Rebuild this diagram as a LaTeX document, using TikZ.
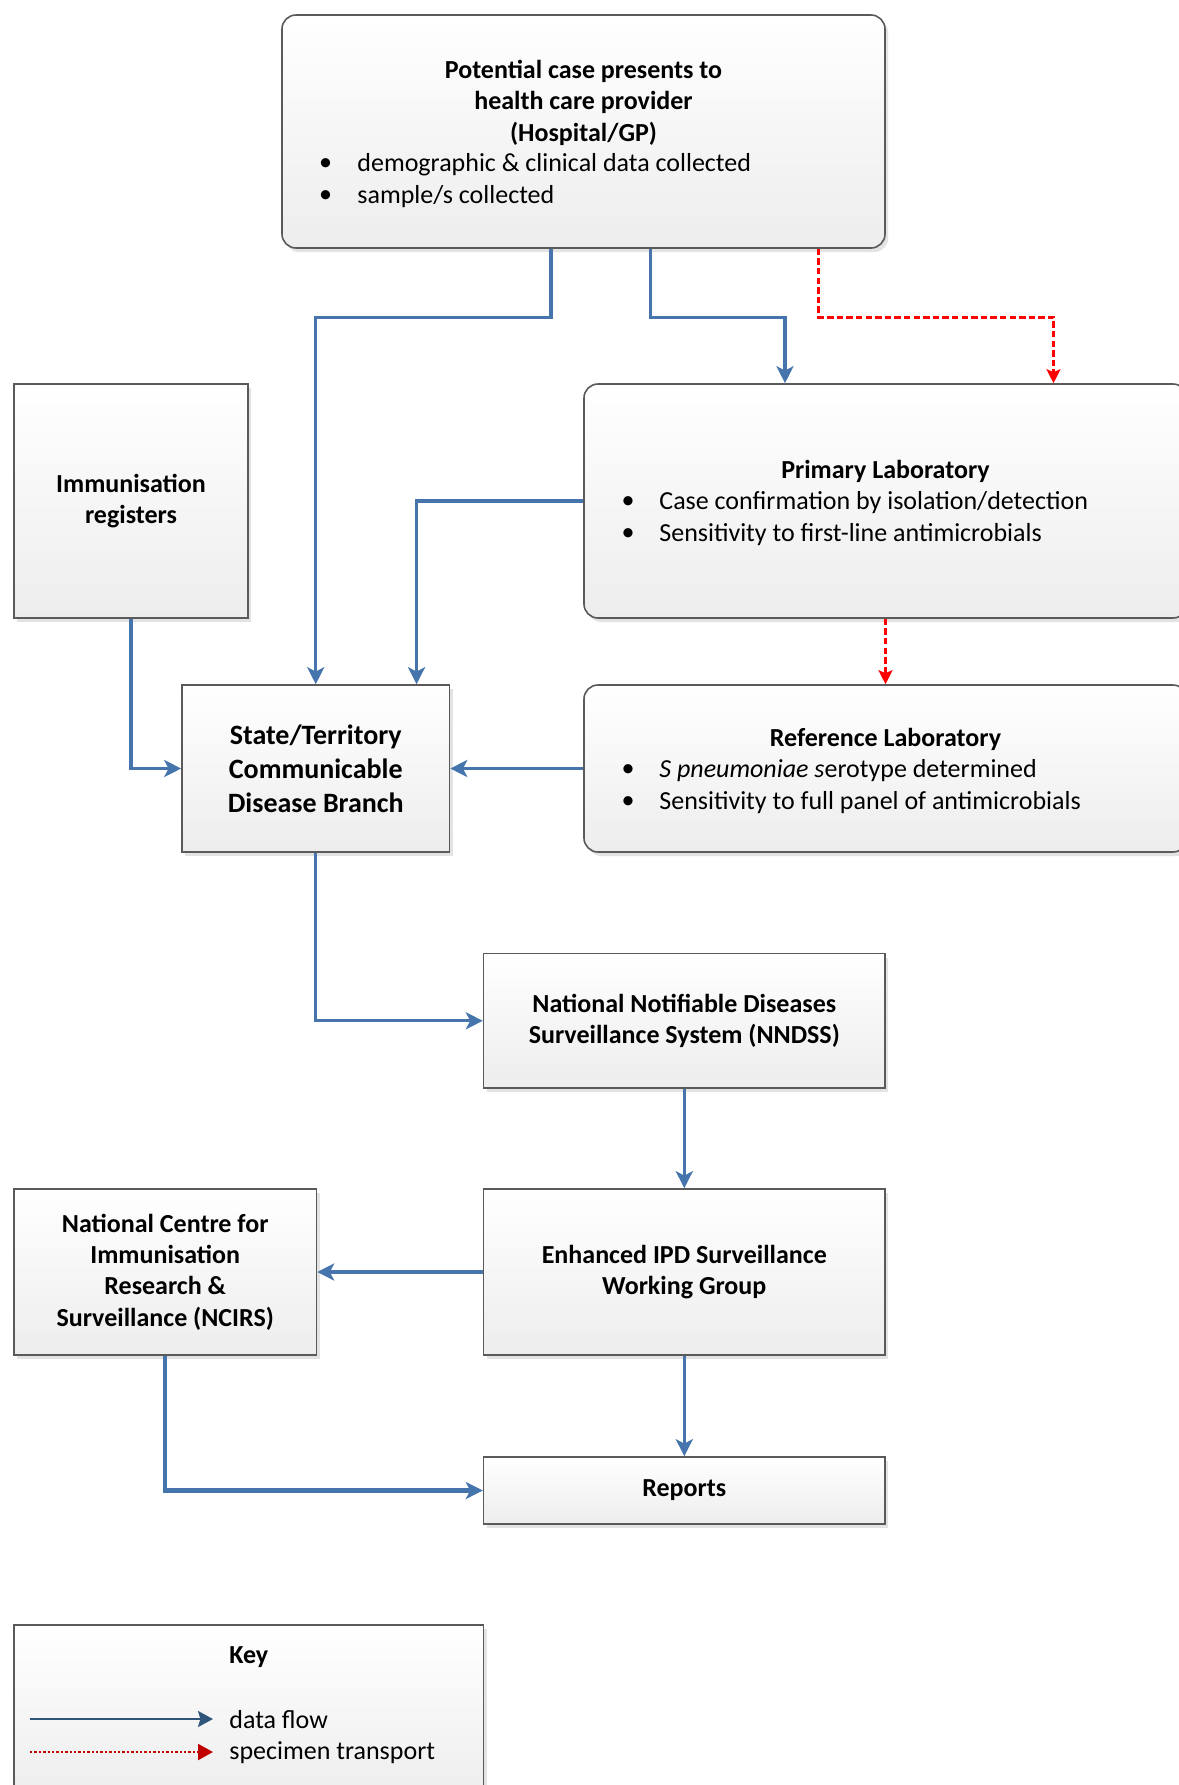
\documentclass[tikz,border=0pt]{standalone}
\usepackage{fontspec}
\setmainfont{Carlito}
\usetikzlibrary{arrows.meta,shadows}
\definecolor{flowblue}{HTML}{4575AC}
\definecolor{specred}{HTML}{FF0000}
\definecolor{keyblue}{HTML}{30557A}
\definecolor{keyred}{HTML}{C00000}
\definecolor{boxgray}{HTML}{5A5A5A}
\definecolor{boxbottom}{HTML}{EDEDED}
\definecolor{shadowgray}{HTML}{E3E3E3}
\tikzset{
  box/.style={draw=boxgray, line width=0.8pt, top color=white, bottom color=boxbottom,
    drop shadow={shadow xshift=1.6pt, shadow yshift=-2pt, fill=shadowgray, opacity=1},
    inner sep=2pt, align=center, font=\fontsize{13}{15.7}\selectfont\bfseries},
  rbox/.style={box, rounded corners=7pt},
  ttl/.style={inner sep=0pt, align=center, font=\fontsize{13}{15.7}\selectfont\bfseries},
  bul/.style={inner sep=0pt, font=\fontsize{13}{15.7}\selectfont},
  btxt/.style={inner sep=0pt, anchor=west, font=\fontsize{13}{15.7}\selectfont},
  flow/.style={draw=flowblue, line width=1.6pt, -{Stealth[length=8.5pt,width=8.5pt,inset=2.2pt]}},
  spec/.style={draw=specred, line width=1.6pt, dash pattern=on 3.2pt off 1.6pt, -{Stealth[length=7pt,width=7pt,inset=1.5pt]}},
  keyflow/.style={draw=keyblue, line width=1.1pt, -{Stealth[length=7.5pt,width=8pt,inset=1.2pt]}},
  keyspec/.style={draw=keyred, line width=1.1pt, dash pattern=on 1.2pt off 1pt, -{Triangle[length=7.5pt,width=8pt]}},
}
\begin{document}
\begin{tikzpicture}[x=0.5pt,y=-0.5pt]
\useasboundingbox (0,0) rectangle (1179,1785);
\clip (0,0) rectangle (1179,1785);
\fill[white] (0,0) rectangle (1179,1785);

% top box
\node[rbox, minimum width=301.5pt, minimum height=116.5pt] (top) at (583.5,131.5) {};
\node[ttl] (toptitle) at (583.5,102.7) {Potential case presents to\\health care provider\\(Hospital/GP)};
\node[bul] (tb1) at (325.5,164.7) {\textbullet};
\node[btxt] (tt1) at (357,164.7) {demographic \& clinical data collected};
\node[bul] (tb2) at (325.5,196.6) {\textbullet};
\node[btxt] (tt2) at (357,196.6) {sample/s collected};

% immunisation registers
\node[box, minimum width=117pt, minimum height=117.25pt] (imm) at (131,501) {Immunisation\\registers};

% primary laboratory
\node[rbox, minimum width=301.5pt, minimum height=117pt] (pl) at (885.5,501) {};
\node[ttl] (pltitle) at (885.5,471) {Primary Laboratory};
\node[bul] (pb1) at (628,503) {\textbullet};
\node[btxt] (pt1) at (659,503) {Case confirmation by isolation/detection};
\node[bul] (pb2) at (628,534.6) {\textbullet};
\node[btxt] (pt2) at (659,534.6) {Sensitivity to first-line antimicrobials};

% state/territory
\node[box, font=\fontsize{14}{17}\selectfont\bfseries, minimum width=133.75pt, minimum height=83.5pt] (st) at (315.75,768.5) {State/Territory\\Communicable\\Disease Branch};

% reference laboratory
\node[rbox, minimum width=301.5pt, minimum height=83.5pt] (ref) at (885.5,768.5) {};
\node[ttl] (reftitle) at (885.5,739.5) {Reference Laboratory};
\node[bul] (rb1) at (628,771) {\textbullet};
\node[btxt] (rt1) at (659,771) {\textit{S pneumoniae s}erotype determined};
\node[bul] (rb2) at (628,803) {\textbullet};
\node[btxt] (rt2) at (659,803) {Sensitivity to full panel of antimicrobials};

% NNDSS
\node[box, minimum width=200.7pt, minimum height=67.2pt] (nn) at (684.3,1020.8) {National Notifiable Diseases\\Surveillance System (NNDSS)};

% Enhanced IPD
\node[box, minimum width=200.7pt, minimum height=83pt] (en) at (684.3,1272) {Enhanced IPD Surveillance\\Working Group};

% NCIRS
\node[box, minimum width=151.2pt, minimum height=83pt] (nc) at (165.2,1272) {National Centre for\\Immunisation\\Research \&\\Surveillance (NCIRS)};

% Reports
\node[box, minimum width=200.7pt, minimum height=33.5pt] (rep) at (684.3,1490.5) {Reports};

% Key
\node[box, minimum width=234.8pt, minimum height=87.5pt] (key) at (248.8,1712.5) {};
\node[ttl] (keytitle) at (248.8,1657) {Key};
\coordinate (k1a) at (30,1719);
\coordinate (k1b) at (213,1719);
\coordinate (k2a) at (30,1752);
\coordinate (k2b) at (213,1752);
\draw[keyflow] (k1a) -- (k1b);
\draw[keyspec] (k2a) -- (k2b);
\node[btxt] (kt1) at (229,1720) {data flow};
\node[btxt] (kt2) at (229,1753) {specimen transport};

% connectors
\draw[flow] ([xshift=-16.25pt]top.south) -- ++(0pt,-34.25pt) -| (st.north);
\draw[flow] ([xshift=33.5pt]top.south) -- ++(0pt,-34.25pt) -| ([xshift=-50.25pt]pl.north);
\draw[spec] ([xshift=117.65pt]top.south) -- ++(0pt,-34.25pt) -| ([xshift=84pt]pl.north);
\draw[flow] (pl.west) -| ([xshift=50.4pt]st.north);
\draw[spec] (pl.south) -- (ref.north);
\draw[flow] (ref.west) -- (st.east);
\draw[flow] (imm.south) |- (st.west);
\draw[flow] (st.south) |- (nn.west);
\draw[flow] (nn.south) -- (en.north);
\draw[flow] (en.west) -- (nc.east);
\draw[flow] (en.south) -- (rep.north);
\draw[flow, line width=2.1pt] (nc.south) |- (rep.west);
\end{tikzpicture}
\end{document}
